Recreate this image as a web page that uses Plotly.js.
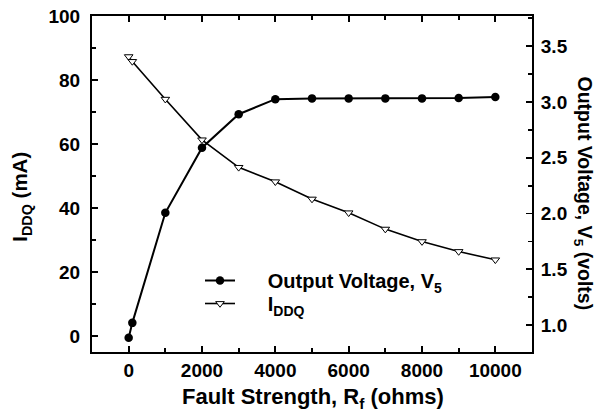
<!DOCTYPE html>
<html><head><meta charset="utf-8">
<script src="https://cdn.plot.ly/plotly-3.0.1.min.js"></script>
<style>html,body{margin:0;padding:0;background:#fff}#c{width:604px;height:419px}</style>
</head><body><div id="c"></div>
<script>
const faultStrength = [0, 100, 1000, 2000, 3000, 4000, 5000, 6000, 7000, 8000, 9000, 10000];
const outputVoltage = [0.887, 1.021, 2.007, 2.59, 2.89, 3.025, 3.032, 3.032, 3.032, 3.032, 3.036, 3.045];
const iddq = [87.3, 85.8, 74.0, 61.3, 52.7, 48.2, 42.8, 38.5, 33.4, 29.5, 26.4, 23.8];
const xTicks = [0, 2000, 4000, 6000, 8000, 10000];

const FONT = 'Liberation Sans, Arial, Helvetica, sans-serif';
const tf = {family: FONT, size: 19, color: '#000', weight: 'bold'};
const lf = {family: FONT, size: 20, color: '#000', weight: 'bold'};
const PAD = '\u00a0\u00a0\u00a0\u00a0\u00a0';

const traces = [
  {x: faultStrength, y: outputVoltage, yaxis: 'y2', mode: 'lines+markers',
   name: PAD + 'Output Voltage, V<sub>5</sub>', legend: 'legend',
   line: {color: '#000', width: 2},
   marker: {symbol: 'circle', size: 8.5, color: '#000'}},
  {x: faultStrength, y: iddq, yaxis: 'y', mode: 'lines+markers',
   name: PAD + 'I<sub>DDQ</sub>', legend: 'legend2',
   line: {color: '#000', width: 1.6},
   marker: {symbol: 'triangle-down', size: 7.5, color: '#fff', line: {color: '#000', width: 1}}}
];

const axisCommon = {showline: true, linecolor: '#000', linewidth: 2,
  ticks: 'inside', ticklen: 6, tickwidth: 1.8, tickcolor: '#000',
  showgrid: false, zeroline: false, tickfont: tf};
const minorCommon = {ticks: 'inside', ticklen: 4, tickwidth: 1.8, tickcolor: '#000'};

const layout = {
  width: 604, height: 419,
  margin: {l: 92, r: 72, t: 16, b: 67},
  paper_bgcolor: '#fff', plot_bgcolor: '#fff',
  showlegend: true,
  legend: {x: (200 - 92) / 440, y: (352 - 261) / 336, xanchor: 'left', yanchor: 'top',
           font: lf, bgcolor: 'rgba(0,0,0,0)'},
  legend2: {x: (200 - 92) / 440, y: (352 - 284) / 336, xanchor: 'left', yanchor: 'top',
           font: lf, bgcolor: 'rgba(0,0,0,0)'},
  xaxis: Object.assign({}, axisCommon, {range: [-1000, 11000], tickvals: xTicks, ticktext: xTicks.map(String),
          mirror: 'ticks', minor: Object.assign({dtick: 1000, tick0: 0}, minorCommon), ticklabelstandoff: 0}),
  yaxis: Object.assign({}, axisCommon, {range: [-5, 100], dtick: 20, tick0: 0,
          minor: Object.assign({dtick: 10, tick0: 0}, minorCommon), ticklabelstandoff: 6}),
  yaxis2: Object.assign({}, axisCommon, {range: [0.76, 3.77], dtick: 0.5, tick0: 1.0, tickformat: '.1f',
          overlaying: 'y', side: 'right',
          minor: Object.assign({dtick: 0.25, tick0: 1.0}, minorCommon), ticklabelstandoff: 3}),
  annotations: [
    {text: 'Fault Strength, R<sub>f</sub> (ohms)', xref: 'paper', yref: 'paper', x: 0.502, y: -0.136,
     xanchor: 'center', yanchor: 'middle', showarrow: false, font: {family: FONT, size: 22, color: '#000', weight: 'bold'}},
    {text: 'I<sub>DDQ</sub> (mA)', xref: 'paper', yref: 'paper', x: -0.16, y: 0.461, textangle: -90,
     xanchor: 'center', yanchor: 'middle', showarrow: false, font: {family: FONT, size: 20.5, color: '#000', weight: 'bold'}},
    {text: 'Output Voltage, V<sub>5</sub> (volts)', xref: 'paper', yref: 'paper', x: 1.118, y: 0.472, textangle: 90,
     xanchor: 'center', yanchor: 'middle', showarrow: false, font: {family: FONT, size: 19.5, color: '#000', weight: 'bold'}}
  ]
};

Plotly.newPlot('c', traces, layout, {displayModeBar: false, staticPlot: true});
</script></body></html>
